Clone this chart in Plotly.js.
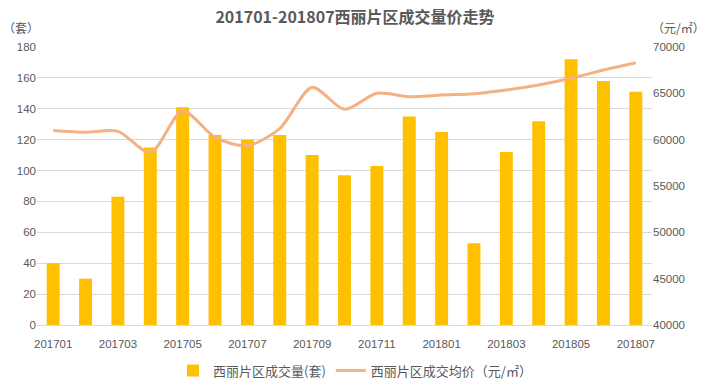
<!DOCTYPE html>
<html><head><meta charset="utf-8">
<script src="https://cdn.plot.ly/plotly-3.0.1.min.js"></script>
<style>html,body{margin:0;padding:0;background:#fff}#c{width:710px;height:390px}</style>
</head><body><div id="c"></div>
<script>
const months = ["201701","201702","201703","201704","201705","201706","201707","201708","201709","201710","201711","201712","201801","201802","201803","201804","201805","201806","201807"];
const volume = [40,30,83,115,141,123,120,123,110,97,103,135,125,53,112,132,172,158,151];
const avgPrice = [61000,60800,60900,58600,63100,60250,59350,61200,65650,63270,65000,64630,64820,64960,65360,65900,66620,67520,68300];
const tickLabels = ["201701","201703","201705","201707","201709","201711","201801","201803","201805","201807"];
const leftTicks = [0,20,40,60,80,100,120,140,160,180];
const rightTicks = [40000,45000,50000,55000,60000,65000,70000];
const rightTickText = ["40000","45000","50000","55000","60000","65000","70000"];

const fontFam = '"Liberation Sans", Arial, "Noto Sans CJK SC", sans-serif';
const cjk = '"Noto Sans CJK SC", sans-serif';
const gray = '#595959';

const traces = [
  {type:'bar', x:months, y:volume, name:'西丽片区成交量(套)', marker:{color:'#FFC000'}, width:0.4, yaxis:'y'},
  {type:'scatter', mode:'lines', x:months, y:avgPrice, name:'西丽片区成交均价（元/㎡）', yaxis:'y2',
   line:{color:'#F4B183', width:3, shape:'spline', smoothing:0.8}}
];

const layout = {
  width:710, height:390,
  margin:{l:37, r:58, t:47, b:65, autoexpand:false},
  paper_bgcolor:'#fff', plot_bgcolor:'#fff',
  font:{family:fontFam, color:gray, size:11},
  title:{text:'<b>201701-201807西丽片区成交量价走势</b>', x:0.5, xanchor:'center', y:0.955, yanchor:'middle',
         font:{family:cjk, size:16, color:gray}},
  xaxis:{type:'category', tickmode:'array', tickvals:tickLabels, ticktext:tickLabels,
         showgrid:false, showline:true, linecolor:'#d9d9d9', linewidth:1, ticks:'', ticklabelstandoff:8,
         tickfont:{size:11.5, color:gray}, range:[-0.5,18.5], automargin:false},
  yaxis:{range:[0,180], tickvals:leftTicks, showgrid:true, gridcolor:'#d9d9d9', gridwidth:1,
         zeroline:false, showline:false, ticks:'', tickfont:{size:11.5,color:gray}, automargin:false},
  yaxis2:{range:[40000,70000], tickvals:rightTicks, ticktext:rightTickText, overlaying:'y', side:'right', showgrid:false,
          zeroline:false, showline:false, ticks:'', tickfont:{size:11.5,color:gray}, automargin:false},
  showlegend:true,
  legend:{orientation:'h', x:0.5, xanchor:'center', xref:'container', y:0.05, yanchor:'middle', yref:'container',
          font:{family:cjk, size:13, color:gray}, traceorder:'normal'},
  annotations:[
    {text:'（套）', xref:'paper', yref:'paper', x:-0.058, y:1.07, xanchor:'left', yanchor:'middle', showarrow:false,
     font:{family:cjk, size:12, color:gray}},
    {text:'（元/㎡）', xref:'paper', yref:'paper', x:1.09, y:1.07, xanchor:'right', yanchor:'middle', showarrow:false,
     font:{family:cjk, size:12, color:gray}}
  ]
};
Plotly.newPlot('c', traces, layout, {displayModeBar:false, staticPlot:true});
</script></body></html>
